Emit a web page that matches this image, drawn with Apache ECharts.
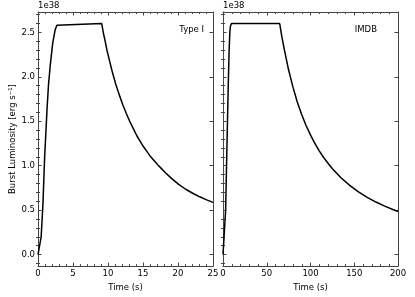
<!DOCTYPE html>
<html>
<head>
<meta charset="utf-8">
<script src="https://cdn.jsdelivr.net/npm/echarts@6/dist/echarts.min.js"></script>
<style>html,body{margin:0;padding:0;background:#fff}#c{width:415px;height:297px}</style>
</head>
<body>
<div id="c"></div>
<script>
// ---- data (luminosity in units of 1e38 erg/s) ----
const timeTypeI = [0,0.2,0.45,0.7,0.95,1.3,1.5,1.75,2.1,2.45,2.7,2.9,9.1,9.35,9.6,9.85,10.1,10.6,11.1,11.6,12.1,12.6,13.1,13.6,14.1,14.6,15.1,15.6,16.1,16.6,17.1,17.6,18.1,19.1,20.1,21.1,22.1,23.1,24.1,25];
const lumTypeI  = [0,0.01,0.2,0.56,1.1,1.65,1.91,2.13,2.38,2.53,2.58,2.6,2.6,2.49,2.40,2.30,2.22,2.06,1.92,1.80,1.69,1.59,1.50,1.42,1.34,1.275,1.21,1.155,1.10,1.055,1.01,0.97,0.93,0.855,0.79,0.735,0.69,0.65,0.615,0.587];
const timeIMDB = [0,1.5,2,3,4,5,6,7,7.8,8.5,9.6,64.8,67.3,69.8,74.8,79.8,84.8,89.8,94.8,99.8,104.8,109.8,114.8,119.8,124.8,134.8,144.8,154.8,164.8,174.8,184.8,194.8,200];
const lumIMDB  = [0,0,0.02,0.5,0.98,1.45,1.9,2.3,2.5,2.57,2.6,2.6,2.45,2.32,2.085,1.89,1.72,1.58,1.455,1.35,1.255,1.17,1.095,1.03,0.968,0.864,0.778,0.706,0.644,0.591,0.545,0.505,0.485];
const yTickValues = [0,0.5,1.0,1.5,2.0,2.5];
const xTicksTypeI = [0,5,10,15,20,25];
const xTicksIMDB = [0,50,100,150,200];
const panelLabels = ['Type I','IMDB'];
const offsetText = '1e38';
const xName = 'Time (s)';
const yName = 'Burst Luminosity [erg s\u207B\u00B9]';

const FONT = 'DejaVu Sans';
const FS = 8.5;
const AX = '#444';
const yMin = -0.13, yMax = 2.73;
const yMinor = [];
for (let i = -1; i <= 27; i++) if (i % 5 !== 0) yMinor.push(i / 10);

const grids = [
  {left: 38, top: 12, width: 175, height: 260},
  {left: 223, top: 12, width: 175, height: 260}
];

function xAx(g, pos, ticks, label) {
  return {
    type: 'value', gridIndex: g, position: pos,
    min: ticks[0], max: ticks[ticks.length - 1], interval: ticks[1] - ticks[0],
    axisLine: {show: true, onZero: false, lineStyle: {color: AX, width: 1}},
    axisTick: {show: true, inside: true, length: 3.5, lineStyle: {color: AX, width: 1}},
    minorTick: {show: true, splitNumber: 5, length: 2, lineStyle: {color: AX, width: 1}},
    splitLine: {show: false}, minorSplitLine: {show: false},
    axisLabel: {show: label, margin: 3, color: '#000', fontFamily: FONT, fontSize: FS},
    name: label ? xName : '', nameLocation: 'middle', nameGap: 13,
    nameTextStyle: {color: '#000', fontFamily: FONT, fontSize: FS}
  };
}
function yAx(g, pos, label, name) {
  return {
    type: 'value', gridIndex: g, position: pos, min: yMin, max: yMax,
    axisLine: {show: true, onZero: false, lineStyle: {color: AX, width: 1}},
    axisTick: {show: true, inside: true, length: 3.5, customValues: yTickValues, lineStyle: {color: AX, width: 1}},
    splitLine: {show: false},
    axisLabel: {show: label, customValues: yTickValues, margin: 3, color: '#000', fontFamily: FONT, fontSize: FS,
      formatter: v => v.toFixed(1)},
    name: name ? yName : '', nameLocation: 'middle', nameGap: 21,
    nameTextStyle: {color: '#000', fontFamily: FONT, fontSize: FS}
  };
}
function yMinorAx(g, pos) {
  return {
    type: 'value', gridIndex: g, position: pos, min: yMin, max: yMax,
    axisLine: {show: false},
    axisTick: {show: true, inside: true, length: 2, customValues: yMinor, lineStyle: {color: AX, width: 1}},
    splitLine: {show: false}, axisLabel: {show: false}
  };
}

const xAxis = [
  xAx(0, 'bottom', xTicksTypeI, true), xAx(0, 'top', xTicksTypeI, false),
  xAx(1, 'bottom', xTicksIMDB, true), xAx(1, 'top', xTicksIMDB, false)
];
const yAxis = [
  yAx(0, 'left', true, true), yMinorAx(0, 'left'), yAx(0, 'right', false, false), yMinorAx(0, 'right'),
  yAx(1, 'left', false, false), yMinorAx(1, 'left'), yAx(1, 'right', false, false), yMinorAx(1, 'right')
];

function pairs(ts, ls) { return ts.map((t, i) => [t, ls[i]]); }

const option = {
  animation: false,
  grid: grids,
  xAxis: xAxis,
  yAxis: yAxis,
  series: [
    {type: 'line', xAxisIndex: 0, yAxisIndex: 0, data: pairs(timeTypeI, lumTypeI), showSymbol: false,
     lineStyle: {color: '#000', width: 1.5}, silent: true},
    {type: 'line', xAxisIndex: 2, yAxisIndex: 4, data: pairs(timeIMDB, lumIMDB), showSymbol: false,
     lineStyle: {color: '#000', width: 1.5}, silent: true}
  ],
  graphic: [
    {type: 'text', left: 38, top: 1, style: {text: offsetText, font: FS + 'px "' + FONT + '"', fill: '#000'}},
    {type: 'text', left: 223, top: 1, style: {text: offsetText, font: FS + 'px "' + FONT + '"', fill: '#000'}},
    {type: 'text', right: 415 - 204, top: 25, style: {text: panelLabels[0], font: FS + 'px "' + FONT + '"', fill: '#000'}},
    {type: 'text', right: 415 - 377, top: 25, style: {text: panelLabels[1], font: FS + 'px "' + FONT + '"', fill: '#000'}}
  ]
};
const chart = echarts.init(document.getElementById('c'), null, {renderer: 'canvas'});
chart.setOption(option);
</script>
</body>
</html>
